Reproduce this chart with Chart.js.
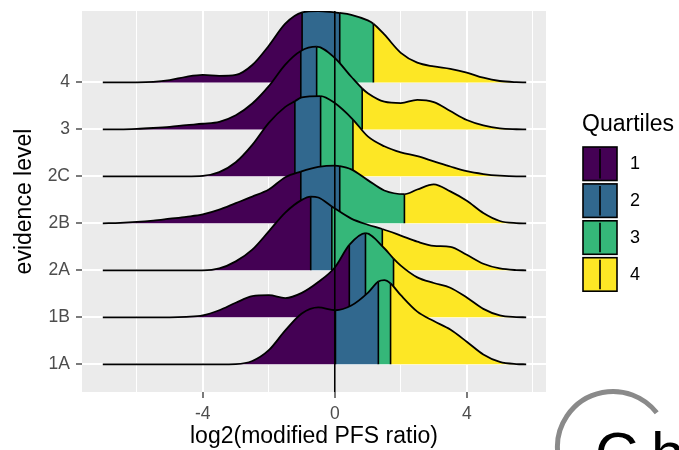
<!DOCTYPE html>
<html>
<head>
<meta charset="utf-8">
<title>PFS ratio by evidence level</title>
<script src="https://cdn.jsdelivr.net/npm/chart.js@4.4.1/dist/chart.umd.min.js"></script>
<style>
  html, body { margin: 0; padding: 0; background: #ffffff; }
  #ridgeChart { display: block; }
</style>
</head>
<body>
<canvas id="ridgeChart" width="679" height="450"></canvas>
<script>
// evidence levels, bottom row first
const levels = ['1A', '1B', '2A', '2B', '2C', '3', '4'];

const xGrid = [-7.03, -6.5, -6, -5.5, -5, -4.5, -4, -3.5, -3, -2.5, -2, -1.5, -1, -0.5,
               0, 0.5, 1, 1.5, 2, 2.5, 3, 3.5, 4, 4.5, 5, 5.5, 5.8];

// ridge heights (in rows) at xGrid
const dens1A = [0, 0, 0, 0, 0, 0, 0, 0, 0.005, 0.07, 0.30, 0.72, 1.08, 1.21, 1.15, 1.25, 1.52, 1.79, 1.47, 1.12, 0.92, 0.74, 0.48, 0.21, 0.05, 0.005, 0];
const dens1B = [0, 0, 0, 0, 0, 0.01, 0.04, 0.15, 0.31, 0.45, 0.47, 0.41, 0.52, 0.75, 1.06, 1.58, 1.78, 1.47, 1.10, 0.85, 0.73, 0.63, 0.42, 0.18, 0.04, 0.005, 0];
const dens2A = [0, 0, 0, 0, 0, 0, 0, 0.04, 0.19, 0.44, 0.83, 1.23, 1.50, 1.55, 1.32, 1.10, 0.97, 0.87, 0.74, 0.61, 0.52, 0.50, 0.33, 0.14, 0.04, 0.005, 0];
const dens2B = [0, 0.01, 0.03, 0.06, 0.10, 0.14, 0.19, 0.29, 0.43, 0.57, 0.72, 0.98, 1.10, 1.20, 1.23, 1.15, 0.92, 0.70, 0.61, 0.72, 0.83, 0.68, 0.48, 0.22, 0.05, 0.005, 0];
const dens2C = [0, 0, 0, 0, 0, 0, 0.01, 0.09, 0.30, 0.67, 1.14, 1.48, 1.68, 1.73, 1.56, 1.24, 0.85, 0.64, 0.51, 0.43, 0.32, 0.21, 0.11, 0.05, 0.015, 0, 0];
const dens3  = [0, 0, 0.01, 0.03, 0.055, 0.09, 0.12, 0.16, 0.30, 0.55, 0.92, 1.38, 1.68, 1.76, 1.52, 1.12, 0.77, 0.59, 0.56, 0.63, 0.58, 0.39, 0.20, 0.085, 0.02, 0.003, 0];
const dens4  = [0, 0, 0, 0.01, 0.05, 0.12, 0.16, 0.14, 0.16, 0.37, 0.78, 1.25, 1.47, 1.52, 1.49, 1.44, 1.32, 1.02, 0.63, 0.42, 0.34, 0.29, 0.21, 0.10, 0.03, 0.005, 0];

// quartile cut points and the ridge height at each cut
const cuts1A = [0.02, 1.32, 1.69];   const cutH1A = [1.15, 1.76, 1.72];
const cuts1B = [0.44, 0.93, 1.78];   const cutH1B = [1.54, 1.79, 1.25];
const cuts2A = [-0.73, -0.09, 1.44]; const cutH2A = [1.57, 1.36, 0.88];
const cuts2B = [-1.03, 0.15, 2.11];  const cutH2B = [1.10, 1.22, 0.62];
const cuts2C = [-1.21, -0.43, 0.55]; const cutH2C = [1.60, 1.71, 1.21];
const cuts3  = [-1.03, -0.55, 0.83]; const cutH3  = [1.67, 1.76, 0.87];
const cuts4  = [-0.99, 0.15, 1.17];  const cutH4  = [1.49, 1.48, 1.25];

const quartileColors = ['#440154', '#31688E', '#35B779', '#FDE725'];
const quartileLabels = ['1', '2', '3', '4'];
const xTicks = [-6, -4, -2, 0, 2, 4, 6];

const ridges = [
    { dens: dens1A, cuts: cuts1A, cutH: cutH1A },
    { dens: dens1B, cuts: cuts1B, cutH: cutH1B },
    { dens: dens2A, cuts: cuts2A, cutH: cutH2A },
    { dens: dens2B, cuts: cuts2B, cutH: cutH2B },
    { dens: dens2C, cuts: cuts2C, cutH: cutH2C },
    { dens: dens3,  cuts: cuts3,  cutH: cutH3 },
    { dens: dens4,  cuts: cuts4,  cutH: cutH4 }
];

const yMin = 0.41;
const yMax = 8.52;
const FONT = '"Liberation Sans", Arial, sans-serif';

// merge the grid readings with the cut points
function ridgePoints(r, base) {
    const pts = [];
    xGrid.forEach((x, i) => {
        if (r.cuts.every(c => Math.abs(c - x) > 0.12)) pts.push({ x: x, y: base + r.dens[i] });
    });
    r.cuts.forEach((c, k) => pts.push({ x: c, y: base + r.cutH[k] }));
    return pts.sort((a, b) => a.x - b.x);
}

function quartileOf(x, cuts) {
    let q = 0;
    cuts.forEach(c => { if (x >= c - 1e-6) q++; });
    return q;
}

const datasets = [];
ridges.forEach((r, i) => {
    const base = i + 1;
    const pts = ridgePoints(r, base);
    // later rows (lower order) are drawn over the rows above them
    datasets.push({
        label: levels[i],
        data: pts,
        order: base * 10 + 5,
        borderColor: '#000000',
        borderWidth: 1.8,
        pointRadius: 0,
        cubicInterpolationMode: 'monotone',
        fill: { value: base },
        backgroundColor: quartileColors[0],
        segment: {
            backgroundColor: ctx => quartileColors[quartileOf(pts[ctx.p0DataIndex].x, r.cuts)]
        }
    });
    const cutLines = [];
    r.cuts.forEach((c, k) => {
        cutLines.push({ x: c, y: base }, { x: c, y: base + r.cutH[k] }, { x: c, y: null });
    });
    datasets.push({
        label: levels[i] + ' cuts',
        data: cutLines,
        order: base * 10 + 2,
        borderColor: '#000000',
        borderWidth: 1.6,
        pointRadius: 0,
        fill: false,
        spanGaps: false,
        tension: 0
    });
});

// reference line at 0
datasets.push({
    label: 'zero',
    data: [{ x: 0, y: yMin }, { x: 0, y: yMax }],
    order: 0,
    borderColor: '#000000',
    borderWidth: 1.6,
    pointRadius: 0,
    fill: false
});

const panelBackground = {
    id: 'panelBackground',
    beforeDraw(chart) {
        const { ctx, chartArea: a } = chart;
        ctx.save();
        ctx.fillStyle = '#EBEBEB';
        ctx.fillRect(a.left, a.top, a.right - a.left, a.bottom - a.top);
        ctx.restore();
    }
};

const quartileLegend = {
    id: 'quartileLegend',
    afterDraw(chart) {
        const ctx = chart.ctx;
        ctx.save();
        ctx.fillStyle = '#000000';
        ctx.font = '23px ' + FONT;
        ctx.textBaseline = 'alphabetic';
        ctx.textAlign = 'left';
        ctx.fillText('Quartiles', 582, 131);
        quartileColors.forEach((c, i) => {
            const y = 147 + i * 36.9;
            ctx.fillStyle = c;
            ctx.fillRect(583, y, 34, 33.5);
            ctx.strokeStyle = '#000000';
            ctx.lineWidth = 1.6;
            ctx.strokeRect(583, y, 34, 33.5);
            ctx.beginPath();
            ctx.moveTo(600, y + 2);
            ctx.lineTo(600, y + 31.5);
            ctx.stroke();
            ctx.fillStyle = '#000000';
            ctx.font = '18px ' + FONT;
            ctx.textBaseline = 'middle';
            ctx.fillText(quartileLabels[i], 630, y + 17);
        });

        // partial logo in the corner
        ctx.strokeStyle = '#8A8A8A';
        ctx.lineWidth = 5;
        ctx.beginPath();
        ctx.arc(613, 447, 55.5, 2.95, 5.62);
        ctx.stroke();
        ctx.fillStyle = '#000000';
        ctx.font = '60px ' + FONT;
        ctx.textBaseline = 'alphabetic';
        ctx.fillText('C', 595, 474);
        ctx.fillText('h', 651, 474);
        ctx.restore();
    }
};

document.addEventListener('DOMContentLoaded', () => {
    const ctx = document.getElementById('ridgeChart').getContext('2d');

    new Chart(ctx, {
        type: 'line',
        data: { datasets: datasets },
        options: {
            responsive: false,
            animation: false,
            devicePixelRatio: 1,
            events: [],
            layout: { padding: { top: 11, right: 133, left: 0, bottom: 0 } },
            plugins: {
                legend: { display: false },
                tooltip: { enabled: false },
                filler: { drawTime: 'beforeDatasetDraw' }
            },
            scales: {
                x: {
                    type: 'linear',
                    min: -7.66,
                    max: 6.40,
                    afterBuildTicks: scale => { scale.ticks = xTicks.map(v => ({ value: v })); },
                    afterFit: scale => { scale.height = 58; scale.paddingLeft = 0; scale.paddingRight = 0; },
                    border: { display: false },
                    grid: {
                        color: '#FFFFFF',
                        lineWidth: c => (c.tick && c.tick.value % 4 === 0) ? 2 : 1,
                        tickLength: 6,
                        tickWidth: 1.3,
                        tickColor: c => (c.tick && c.tick.value % 4 === 0) ? '#333333' : 'rgba(0,0,0,0)'
                    },
                    ticks: {
                        autoSkip: false,
                        maxRotation: 0,
                        padding: 6,
                        color: '#4D4D4D',
                        font: { family: FONT, size: 17.5 },
                        callback: v => (v % 4 === 0 ? String(v) : '')
                    },
                    title: {
                        display: true,
                        text: 'log2(modified PFS ratio)',
                        color: '#000000',
                        font: { family: FONT, size: 23 },
                        padding: { top: 0, bottom: 0 }
                    }
                },
                y: {
                    type: 'linear',
                    min: yMin,
                    max: yMax,
                    afterBuildTicks: scale => { scale.ticks = levels.map((l, i) => ({ value: i + 1 })); },
                    afterFit: scale => { scale.width = 82; scale.paddingTop = 0; scale.paddingBottom = 0; },
                    border: { display: false },
                    grid: {
                        color: '#FFFFFF',
                        lineWidth: 2,
                        tickLength: 6,
                        tickWidth: 1.3,
                        tickColor: '#333333'
                    },
                    ticks: {
                        autoSkip: false,
                        padding: 6,
                        color: '#4D4D4D',
                        font: { family: FONT, size: 17.5 },
                        callback: v => levels[Math.round(v) - 1]
                    },
                    title: {
                        display: true,
                        text: 'evidence level',
                        color: '#000000',
                        font: { family: FONT, size: 23 },
                        padding: { top: 11, bottom: 0 }
                    }
                }
            }
        },
        plugins: [panelBackground, quartileLegend]
    });
});
</script>
</body>
</html>
